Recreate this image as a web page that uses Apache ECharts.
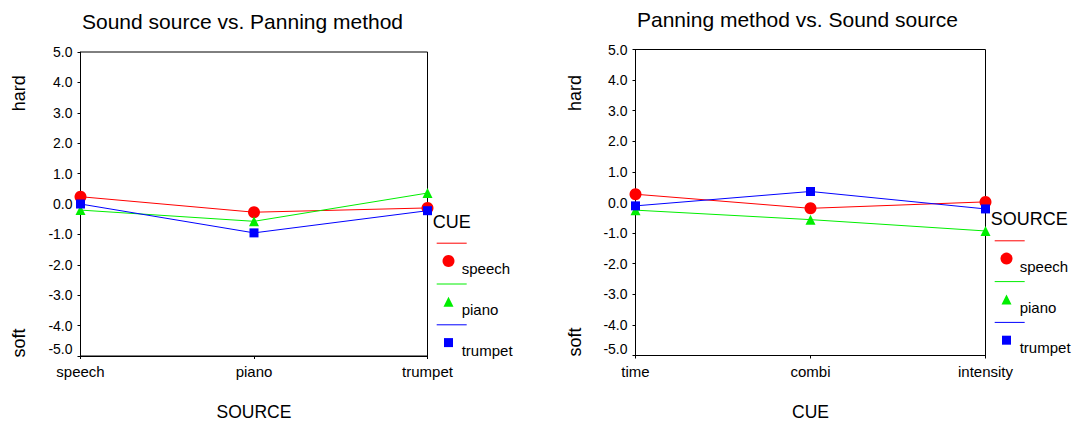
<!DOCTYPE html>
<html>
<head>
<meta charset="utf-8">
<script src="https://cdn.jsdelivr.net/npm/echarts@6/dist/echarts.min.js"></script>
<style>
html,body{margin:0;padding:0;background:#fff;}
#c{width:1075px;height:426px;}
</style>
</head>
<body>
<div id="c"></div>
<script>
// ---- data ----
const leftTitle = 'Sound source vs. Panning method';
const rightTitle = 'Panning method vs. Sound source';
const leftCategories = ['speech', 'piano', 'trumpet'];
const rightCategories = ['time', 'combi', 'intensity'];
const leftAxisName = 'SOURCE';
const rightAxisName = 'CUE';
const leftLegendTitle = 'CUE';
const rightLegendTitle = 'SOURCE';
const seriesNames = ['speech', 'piano', 'trumpet'];
// left chart (x = SOURCE)
const leftSpeech = [0.24, -0.27, -0.13];
const leftPiano = [-0.20, -0.57, 0.36];
const leftTrumpet = [0.00, -0.95, -0.22];
// right chart (x = CUE)
const rightSpeech = [0.27, -0.19, 0.02];
const rightPiano = [-0.25, -0.56, -0.93];
const rightTrumpet = [-0.11, 0.36, -0.21];
const yMin = -5, yMax = 5, yStep = 1;
const yTopName = 'hard', yBottomName = 'soft';

// ---- styles ----
const FONT = '"Liberation Sans", Arial, sans-serif';
const colors = ['#ff0000', '#00ee00', '#0000ff'];
const symbols = ['circle', 'triangle', 'rect'];
const symbolSizes = [12, 10, 9];

const chart = echarts.init(document.getElementById('c'), null, {renderer: 'svg'});

function makeXAxis(gridIndex, cats, name) {
  return {
    type: 'category', gridIndex: gridIndex, data: cats, boundaryGap: false,
    name: name, nameLocation: 'middle', nameGap: 47, nameMoveOverlap: false,
    nameTextStyle: {fontFamily: FONT, fontSize: 17.5, color: '#000'},
    axisLine: {show: true, onZero: false, lineStyle: {color: '#000', width: 1}},
    axisTick: {show: true, length: 3, lineStyle: {color: '#000'}},
    axisLabel: {fontFamily: FONT, fontSize: 15, color: '#000', margin: 8},
    splitLine: {show: false}
  };
}
function makeYAxis(gridIndex) {
  return {
    type: 'value', gridIndex: gridIndex, min: yMin, max: yMax, interval: yStep,
    axisLine: {show: true, onZero: false, lineStyle: {color: '#000', width: 1}},
    axisTick: {show: true, length: 3, lineStyle: {color: '#000'}},
    axisLabel: {
      fontFamily: FONT, fontSize: 14, color: '#000', margin: 8,
      formatter: function (v) { return v === yMin ? '{low|' + v.toFixed(1) + '}' : v.toFixed(1); },
      rich: {low: {fontFamily: FONT, fontSize: 14, color: '#000', padding: [0, 0, 14, 0]}}
    },
    splitLine: {show: false}
  };
}
function makeSeries(idx, values, i) {
  return {
    type: 'line', xAxisIndex: idx, yAxisIndex: idx, name: seriesNames[i], data: values,
    symbol: symbols[i], symbolSize: symbolSizes[i], showSymbol: true,
    lineStyle: {color: colors[i], width: 1},
    itemStyle: {color: colors[i]},
    z: 2 + i
  };
}
function legendGraphic(x0, y0, title) {
  const els = [{
    type: 'text', x: x0, y: y0,
    style: {text: title, font: '18px ' + FONT, fill: '#000', textVerticalAlign: 'middle', textAlign: 'left'}
  }];
  const step = 40.8;
  seriesNames.forEach(function (n, i) {
    const ly = y0 + 21.5 + step * i;
    els.push({type: 'line', shape: {x1: x0 + 4, y1: ly, x2: x0 + 34, y2: ly}, style: {stroke: colors[i], lineWidth: 1}});
    const mx = x0 + 15.8, my = ly + 17.8;
    if (symbols[i] === 'circle') {
      els.push({type: 'circle', shape: {cx: mx, cy: my, r: 6}, style: {fill: colors[i]}});
    } else if (symbols[i] === 'triangle') {
      els.push({type: 'polygon', shape: {points: [[mx, my - 5], [mx + 5, my + 5], [mx - 5, my + 5]]}, style: {fill: colors[i]}});
    } else {
      els.push({type: 'rect', shape: {x: mx - 4.5, y: my - 4.5, width: 9, height: 9}, style: {fill: colors[i]}});
    }
    els.push({type: 'text', x: x0 + 29, y: ly + 25.5,
      style: {text: n, font: '15px ' + FONT, fill: '#000', textVerticalAlign: 'middle', textAlign: 'left'}});
  });
  return els;
}
function yNames(x, yTop, yBottom) {
  return [
    {type: 'text', x: x, y: yTop, rotation: Math.PI / 2,
      style: {text: yTopName, font: '18px ' + FONT, fill: '#000', textAlign: 'center', textVerticalAlign: 'middle'}},
    {type: 'text', x: x, y: yBottom, rotation: Math.PI / 2,
      style: {text: yBottomName, font: '18px ' + FONT, fill: '#000', textAlign: 'center', textVerticalAlign: 'middle'}}
  ];
}

const option = {
  animation: false,
  backgroundColor: '#fff',
  title: [
    {text: leftTitle, left: 82, top: 11, padding: 0,
      textStyle: {fontFamily: FONT, fontSize: 21, fontWeight: 'normal', color: '#000'}},
    {text: rightTitle, left: 637, top: 9, padding: 0,
      textStyle: {fontFamily: FONT, fontSize: 21, fontWeight: 'normal', color: '#000'}}
  ],
  grid: [
    {left: 80.5, top: 52, width: 347, height: 304, containLabel: false, outerBoundsMode: 'none',
      show: true, borderColor: '#000', borderWidth: 1, backgroundColor: 'transparent'},
    {left: 635.5, top: 49.5, width: 350, height: 306, containLabel: false, outerBoundsMode: 'none',
      show: true, borderColor: '#000', borderWidth: 1, backgroundColor: 'transparent'}
  ],
  xAxis: [makeXAxis(0, leftCategories, leftAxisName), makeXAxis(1, rightCategories, rightAxisName)],
  yAxis: [makeYAxis(0), makeYAxis(1)],
  series: [
    makeSeries(0, leftSpeech, 0), makeSeries(0, leftPiano, 1), makeSeries(0, leftTrumpet, 2),
    makeSeries(1, rightSpeech, 0), makeSeries(1, rightPiano, 1), makeSeries(1, rightTrumpet, 2)
  ],
  graphic: [].concat(
    legendGraphic(432.7, 221.7, leftLegendTitle),
    legendGraphic(990.7, 219.3, rightLegendTitle),
    yNames(19, 93.3, 343),
    yNames(575, 93, 342)
  )
};
chart.setOption(option);
</script>
</body>
</html>
